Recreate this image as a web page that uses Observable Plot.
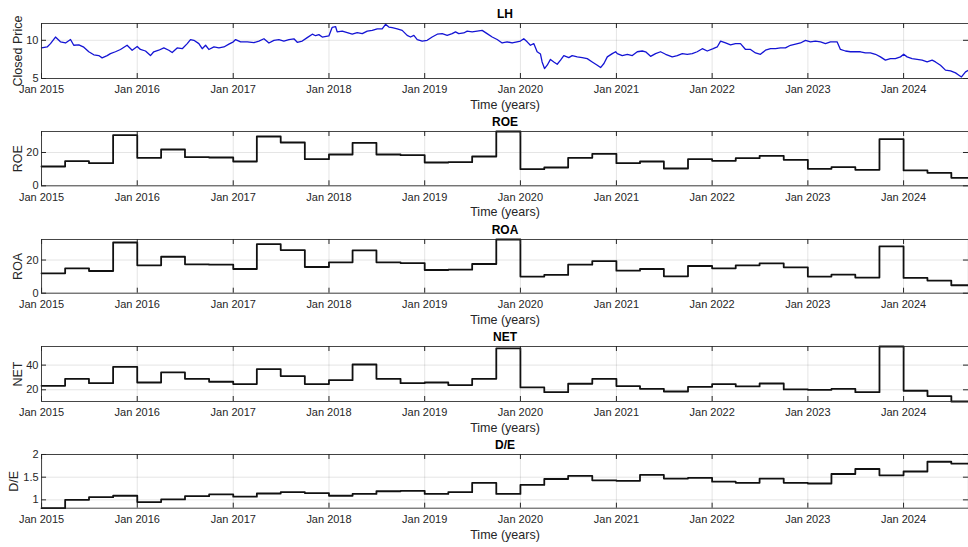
<!DOCTYPE html>
<html>
<head>
<meta charset="utf-8">
<script src="https://cdn.jsdelivr.net/npm/d3@7"></script>
<script src="https://cdn.jsdelivr.net/npm/@observablehq/plot@0.6"></script>
<style>
  body { margin: 0; background: #fff; }
  #fig { position: relative; width: 968px; height: 547px; overflow: hidden; font-family: "Liberation Sans", Arial, sans-serif; }
  #fig > div { position: absolute; left: 0; }
</style>
</head>
<body>
<div id="fig"></div>
<script>
// LH closing price (time in decimal years)
const priceTime = [
  2015.000, 2015.059, 2015.094, 2015.146, 2015.198, 2015.251, 2015.303, 2015.337, 2015.390, 2015.442,
  2015.494, 2015.546, 2015.598, 2015.633, 2015.686, 2015.720, 2015.772, 2015.825, 2015.894, 2015.947,
  2016.000, 2016.033, 2016.086, 2016.138, 2016.172, 2016.224, 2016.277, 2016.329, 2016.364, 2016.416,
  2016.469, 2016.521, 2016.555, 2016.590, 2016.642, 2016.677, 2016.712, 2016.746, 2016.799, 2016.851,
  2016.903, 2016.955, 2017.001, 2017.025, 2017.077, 2017.147, 2017.216, 2017.268, 2017.321, 2017.373,
  2017.425, 2017.477, 2017.529, 2017.582, 2017.634, 2017.669, 2017.721, 2017.773, 2017.826, 2017.860,
  2017.895, 2017.930, 2017.999, 2018.034, 2018.069, 2018.086, 2018.139, 2018.191, 2018.243, 2018.295,
  2018.348, 2018.400, 2018.452, 2018.504, 2018.556, 2018.591, 2018.626, 2018.661, 2018.713, 2018.765,
  2018.817, 2018.852, 2018.887, 2018.922, 2018.974, 2019.026, 2019.078, 2019.131, 2019.183, 2019.235,
  2019.287, 2019.322, 2019.356, 2019.408, 2019.444, 2019.496, 2019.548, 2019.600, 2019.652, 2019.705,
  2019.757, 2019.809, 2019.861, 2019.913, 2019.965, 2020.000, 2020.035, 2020.070, 2020.104, 2020.139,
  2020.174, 2020.209, 2020.226, 2020.251, 2020.279, 2020.313, 2020.348, 2020.383, 2020.418, 2020.452,
  2020.504, 2020.539, 2020.592, 2020.644, 2020.696, 2020.748, 2020.801, 2020.835, 2020.870, 2020.905,
  2020.957, 2020.992, 2021.009, 2021.061, 2021.114, 2021.166, 2021.218, 2021.270, 2021.305, 2021.357,
  2021.409, 2021.461, 2021.514, 2021.583, 2021.636, 2021.688, 2021.740, 2021.792, 2021.844, 2021.897,
  2021.949, 2022.011, 2022.053, 2022.088, 2022.140, 2022.192, 2022.244, 2022.296, 2022.349, 2022.401,
  2022.453, 2022.505, 2022.557, 2022.610, 2022.662, 2022.714, 2022.766, 2022.818, 2022.871, 2022.923,
  2022.975, 2023.027, 2023.079, 2023.132, 2023.184, 2023.236, 2023.305, 2023.340, 2023.392, 2023.445,
  2023.497, 2023.549, 2023.601, 2023.653, 2023.706, 2023.758, 2023.810, 2023.862, 2023.914, 2023.967,
  2024.001, 2024.036, 2024.088, 2024.141, 2024.193, 2024.245, 2024.297, 2024.332, 2024.384, 2024.436,
  2024.489, 2024.541, 2024.576, 2024.603, 2024.645, 2024.676
];
const priceValue = [
  9.0, 9.13, 9.57, 10.43, 9.8, 9.65, 10.1, 9.35, 9.4, 9.1,
  8.5, 8.1, 8.0, 7.7, 8.0, 8.26, 8.5, 8.8, 9.35, 8.7,
  9.2, 8.8, 8.6, 8.0, 8.5, 8.7, 9.0, 8.7, 8.4, 9.0,
  8.9, 9.57, 10.1, 10.0, 9.57, 8.9, 9.35, 8.8, 9.13, 9.0,
  9.13, 9.5, 9.8, 10.1, 9.8, 9.8, 9.7, 9.9, 10.2, 9.65,
  10.0, 10.1, 9.9, 10.1, 10.2, 9.74, 9.9, 10.35, 10.8, 10.6,
  10.74, 10.43, 10.57, 11.7, 11.8, 11.1, 11.2, 11.0, 10.8, 11.0,
  10.87, 11.2, 11.3, 11.5, 11.5, 12.1, 11.74, 11.65, 11.5, 11.3,
  10.65, 10.43, 10.65, 10.1, 9.9, 10.0, 10.43, 10.8, 10.87, 10.65,
  10.87, 11.1, 10.87, 10.96, 11.2, 11.1, 11.2, 11.3, 10.87, 10.43,
  10.1, 9.65, 9.8, 9.65, 9.8, 9.9, 10.2, 9.8, 9.35, 9.57,
  8.5, 8.2, 7.17, 6.3, 6.74, 7.5, 7.17, 6.87, 7.4, 8.0,
  7.74, 8.0, 7.83, 7.74, 7.6, 7.17, 6.74, 6.43, 6.96, 7.83,
  8.26, 8.5, 8.26, 8.0, 8.17, 8.0, 8.5, 8.6, 8.5, 7.9,
  8.26, 8.5, 8.17, 7.83, 8.0, 8.26, 8.17, 8.26, 8.5, 8.9,
  8.6, 8.9, 9.13, 9.9, 9.65, 9.4, 9.57, 9.57, 8.8, 8.8,
  8.35, 8.17, 8.7, 8.9, 8.9, 9.0, 9.0, 9.35, 9.5, 9.65,
  10.0, 9.8, 9.9, 9.8, 9.57, 9.8, 9.8, 8.8, 8.6, 8.5,
  8.5, 8.5, 8.35, 8.35, 8.17, 7.83, 7.4, 7.6, 7.6, 7.83,
  8.17, 7.83, 7.6, 7.5, 7.4, 7.17, 7.4, 7.17, 6.74, 6.1,
  6.0, 5.74, 5.43, 5.2, 5.87, 6.1
];

// Quarterly ratios (each value holds from its quarter start)
const quarterStarts = [
  "2015-01-01", "2015-04-01", "2015-07-01", "2015-10-01",
  "2016-01-01", "2016-04-01", "2016-07-01", "2016-10-01",
  "2017-01-01", "2017-04-01", "2017-07-01", "2017-10-01",
  "2018-01-01", "2018-04-01", "2018-07-01", "2018-10-01",
  "2019-01-01", "2019-04-01", "2019-07-01", "2019-10-01",
  "2020-01-01", "2020-04-01", "2020-07-01", "2020-10-01",
  "2021-01-01", "2021-04-01", "2021-07-01", "2021-10-01",
  "2022-01-01", "2022-04-01", "2022-07-01", "2022-10-01",
  "2023-01-01", "2023-04-01", "2023-07-01", "2023-10-01",
  "2024-01-01", "2024-04-01", "2024-07-01"
];
const roe = [
  11.6, 14.8, 13.6, 30.4, 16.8, 21.8, 17.2, 17.0, 14.6, 29.6, 26.0, 16.0,
  18.8, 25.8, 18.8, 18.4, 14.0, 14.2, 17.6, 32.6, 10.0, 11.0, 16.8, 19.2,
  13.6, 14.6, 10.4, 16.0, 15.0, 16.6, 18.0, 15.6, 10.2, 11.2, 9.6, 28.0,
  9.2, 7.8, 4.8
];
const roa = [
  12.0, 15.0, 13.4, 30.6, 16.8, 22.0, 17.4, 17.2, 14.6, 29.6, 26.0, 15.8,
  18.6, 25.8, 18.6, 18.2, 14.0, 14.2, 17.6, 32.4, 10.0, 11.0, 17.2, 19.4,
  13.6, 14.6, 10.2, 16.4, 15.0, 16.8, 18.0, 15.6, 10.0, 11.2, 9.4, 28.2,
  9.2, 7.6, 4.8
];
const net = [
  23.2, 28.9, 25.4, 38.6, 25.9, 34.1, 28.9, 26.5, 24.6, 36.8, 31.1, 24.6,
  27.8, 40.5, 28.9, 25.4, 25.9, 23.8, 28.9, 53.5, 21.9, 18.1, 24.9, 28.9,
  23.0, 20.8, 18.6, 22.4, 24.6, 22.7, 25.1, 20.3, 20.0, 20.8, 18.1, 55.1,
  19.2, 14.9, 10.5
];
const debtEquity = [
  0.816, 1.00, 1.06, 1.09, 0.95, 1.01, 1.08, 1.12, 1.07, 1.14, 1.17, 1.15,
  1.09, 1.13, 1.19, 1.20, 1.13, 1.17, 1.375, 1.13, 1.33, 1.46, 1.53, 1.43,
  1.42, 1.55, 1.47, 1.485, 1.40, 1.375, 1.47, 1.375, 1.36, 1.57, 1.68, 1.54,
  1.625, 1.84, 1.80
];

const yearTicks = [
  "2015-01-01", "2016-01-01", "2017-01-01", "2018-01-01", "2019-01-01",
  "2020-01-01", "2021-01-01", "2022-01-01", "2023-01-01", "2024-01-01"
];

// decimal year -> UTC date
function fromDecimalYear(t) {
  const y = Math.floor(t);
  const a = Date.UTC(y, 0, 1), b = Date.UTC(y + 1, 0, 1);
  return new Date(a + (t - y) * (b - a));
}

const priceRows = priceTime.map((t, i) => ({date: fromDecimalYear(t), value: priceValue[i]}));
const firstDate = new Date("2015-01-01");
const lastDate = priceRows[priceRows.length - 1].date;
const yearDates = yearTicks.map(s => new Date(s));

// a quarterly series holds its last value until the last trading day
function stepRows(values) {
  const rows = quarterStarts.map((s, i) => ({date: new Date(s), value: values[i]}));
  rows.push({date: lastDate, value: values[values.length - 1]});
  return rows;
}

const W = 968, ML = 41, MR = 0, MT = 24, MB = 32;
const ink = "#262626";

function panel({title, ylabel, rows, domain, yticks, color, lineWidth, curve, frameTop, frameH, ylabelDx}) {
  const innerW = W - ML - MR;
  const chart = Plot.plot({
    width: W,
    height: MT + frameH + MB,
    marginTop: MT, marginBottom: MB, marginLeft: ML, marginRight: MR,
    style: {fontFamily: '"Liberation Sans", Arial, sans-serif', fontSize: "11px", color: ink, background: "transparent", overflow: "visible"},
    x: {type: "utc", domain: [firstDate, lastDate]},
    y: {domain},
    marks: [
      Plot.gridX(yearDates, {stroke: ink, strokeOpacity: 0.12}),
      Plot.gridY(yticks, {stroke: ink, strokeOpacity: 0.12}),
      Plot.line(rows, {x: "date", y: "value", curve, stroke: color, strokeWidth: lineWidth}),
      Plot.frame({stroke: ink, strokeOpacity: 0.85, strokeWidth: 1}),
      // inward ticks on all four sides
      Plot.tickX(yearDates, {x: d => d, insetTop: frameH - 5, stroke: ink}),
      Plot.tickX(yearDates, {x: d => d, insetBottom: frameH - 5, stroke: ink}),
      Plot.tickY(yticks, {y: d => d, insetRight: innerW - 5, stroke: ink}),
      Plot.tickY(yticks, {y: d => d, insetLeft: innerW - 5, stroke: ink}),
      Plot.axisX(yearDates, {tickSize: 0, tickPadding: 7, tickFormat: d3.utcFormat("Jan %Y"), fill: ink, fontSize: 11, label: null}),
      Plot.axisY(yticks, {tickSize: 0, tickPadding: 3, tickFormat: d => String(d), fill: ink, fontSize: 11, label: null}),
      Plot.text([title], {frameAnchor: "top", lineAnchor: "middle", dy: -9, fontWeight: "bold", fontSize: 12, fill: "#000"}),
      Plot.text(["Time (years)"], {frameAnchor: "bottom", lineAnchor: "middle", dy: 26.5, fontSize: 12.5, fill: ink}),
      Plot.text([ylabel], {frameAnchor: "left", textAnchor: "middle", lineAnchor: "middle", dx: ylabelDx, rotate: -90, fontSize: 12.5, fill: ink})
    ]
  });
  const holder = document.createElement("div");
  holder.style.top = (frameTop - MT) + "px";
  holder.appendChild(chart);
  document.getElementById("fig").appendChild(holder);
}

panel({title: "LH", ylabel: "Closed Price", rows: priceRows, domain: [5, 12.2], yticks: [5, 10],
  color: "#1414d4", lineWidth: 1.3, curve: "linear", frameTop: 23.3, frameH: 55, ylabelDx: -24});
panel({title: "ROE", ylabel: "ROE", rows: stepRows(roe), domain: [0, 32.6], yticks: [0, 20],
  color: "#111", lineWidth: 1.8, curve: "step-after", frameTop: 130.7, frameH: 54.3, ylabelDx: -24});
panel({title: "ROA", ylabel: "ROA", rows: stepRows(roa), domain: [0, 32.4], yticks: [0, 20],
  color: "#111", lineWidth: 1.8, curve: "step-after", frameTop: 239, frameH: 53.7, ylabelDx: -24});
panel({title: "NET", ylabel: "NET", rows: stepRows(net), domain: [10.5, 55.1], yticks: [20, 40],
  color: "#111", lineWidth: 1.8, curve: "step-after", frameTop: 345.7, frameH: 55, ylabelDx: -24});
panel({title: "D/E", ylabel: "D/E", rows: stepRows(debtEquity), domain: [0.816, 2], yticks: [1, 1.5, 2],
  color: "#111", lineWidth: 1.8, curve: "step-after", frameTop: 454, frameH: 53.7, ylabelDx: -28});
</script>
</body>
</html>
